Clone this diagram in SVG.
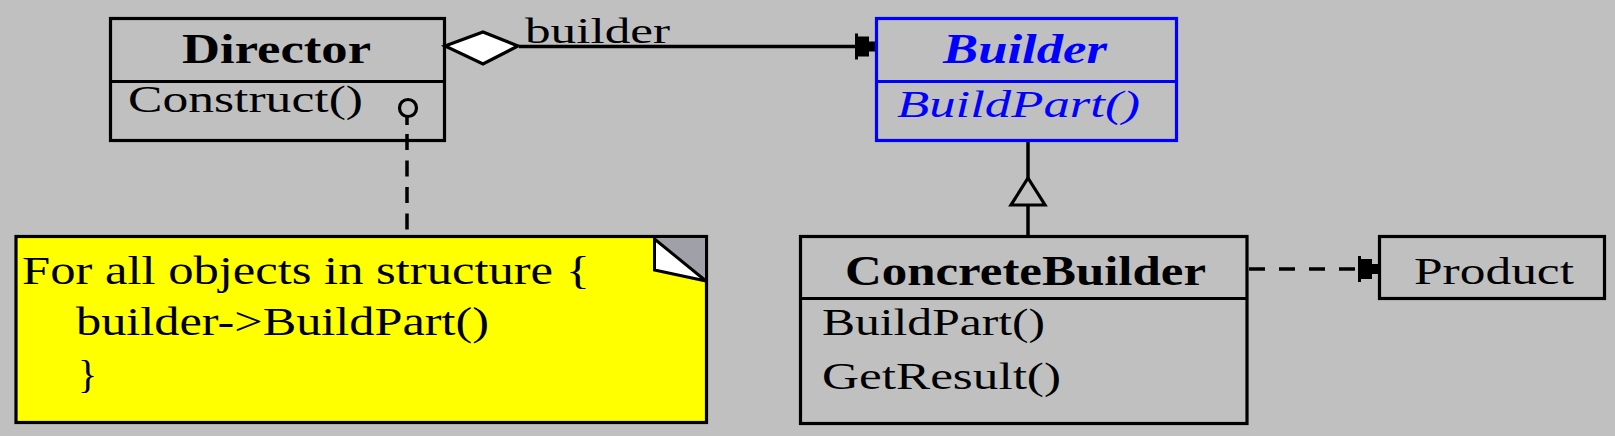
<svg xmlns="http://www.w3.org/2000/svg" width="1615" height="436" viewBox="0 0 1615 436">
<defs>
<style>
.box{fill:none;stroke:#000;stroke-width:3.2}
.blue{stroke:#0000FF}
.ln{fill:none;stroke:#000;stroke-width:3.5}
.dash{fill:none;stroke:#000;stroke-width:3.5}
text{font-family:"Liberation Serif","Times New Roman",serif;fill:#000}
.t{font-size:38px}
.b{font-size:42px;font-weight:bold}
.bl{fill:#0000FF}
</style>
<marker id="arr" markerUnits="userSpaceOnUse" viewBox="-21 -14 22 28" refX="0" refY="0" markerWidth="22" markerHeight="28" orient="auto" overflow="visible">
<path d="M-20,-13 L-17,-13 L-17,-10 L-6,-10 L-6,-5 L0,-5 L0,5 L-6,5 L-6,10 L-17,10 L-17,13 L-20,13 Z" fill="#000"/>
</marker>
</defs>
<rect x="0" y="0" width="1615" height="436" fill="#C0C0C0"/>

<g id="connectors">
<line class="ln" x1="519" y1="46.5" x2="875" y2="46.5" marker-end="url(#arr)"/>
<polygon points="445,46 483,32 518,46 483,64" fill="#fff" stroke="#000" stroke-width="3.2"/>
<text class="t" x="525" y="43" font-size="36" textLength="145" lengthAdjust="spacingAndGlyphs" style="font-size:36px">builder</text>
<line class="ln" x1="1028" y1="141" x2="1028" y2="179"/>
<polygon points="1028,178 1045,205 1011,205" fill="#C0C0C0" stroke="#000" stroke-width="3.2"/>
<line class="ln" x1="1028" y1="205" x2="1028" y2="236"/>
<line class="dash" x1="1249" y1="269" x2="1378" y2="269" stroke-dasharray="16 14" marker-end="url(#arr)"/>
<circle cx="408" cy="108" r="8.5" fill="none" stroke="#000" stroke-width="3.2"/>
<line class="ln" x1="407" y1="116" x2="407" y2="125"/>
<line class="dash" x1="407" y1="134" x2="407" y2="235" stroke-dasharray="16 10.5"/>
</g>

<g id="director">
<rect class="box" x="110.5" y="18.5" width="334" height="122"/>
<line class="box" x1="110.5" y1="81.5" x2="444.5" y2="81.5"/>
<text class="b" x="182" y="63" textLength="189" lengthAdjust="spacingAndGlyphs">Director</text>
<text class="t" x="128" y="112" textLength="235" lengthAdjust="spacingAndGlyphs">Construct()</text>
</g>

<g id="builder">
<rect class="box blue" x="876.5" y="18.5" width="300" height="122"/>
<line class="box blue" x1="876.5" y1="81.5" x2="1176.5" y2="81.5"/>
<text class="b bl" x="943" y="63" font-style="italic" textLength="164" lengthAdjust="spacingAndGlyphs">Builder</text>
<text class="t bl" x="897" y="117" font-style="italic" textLength="243" lengthAdjust="spacingAndGlyphs">BuildPart()</text>
</g>

<g id="concretebuilder">
<rect class="box" x="800.5" y="236.5" width="446.5" height="187"/>
<line class="box" x1="800.5" y1="298.5" x2="1247" y2="298.5"/>
<text class="b" x="845" y="285" textLength="361" lengthAdjust="spacingAndGlyphs">ConcreteBuilder</text>
<text class="t" x="822" y="335" textLength="223" lengthAdjust="spacingAndGlyphs">BuildPart()</text>
<text class="t" x="822" y="389" textLength="239" lengthAdjust="spacingAndGlyphs">GetResult()</text>
</g>

<g id="product">
<rect class="box" x="1379.5" y="236.5" width="225" height="62"/>
<text class="t" x="1414" y="284" textLength="160" lengthAdjust="spacingAndGlyphs">Product</text>
</g>

<g id="note">
<rect x="16" y="236.5" width="690.5" height="186" fill="#FFFF00" stroke="#000" stroke-width="3.2"/>
<polygon points="655,238 705,238 705,280" fill="#A0A0A8"/>
<polygon points="655,239 655,269 705,280" fill="#fff"/>
<path d="M654.5,237 L654.5,270 L706,281 M654.5,239 L706,281" fill="none" stroke="#000" stroke-width="3"/>
<text class="t" x="22" y="284" style="font-size:40px" textLength="568" lengthAdjust="spacingAndGlyphs">For all objects in structure {</text>
<text class="t" x="76" y="335" style="font-size:40px" textLength="413" lengthAdjust="spacingAndGlyphs">builder-&gt;BuildPart()</text>
<text class="t" x="78" y="388" style="font-size:40px">}</text>
</g>
</svg>
